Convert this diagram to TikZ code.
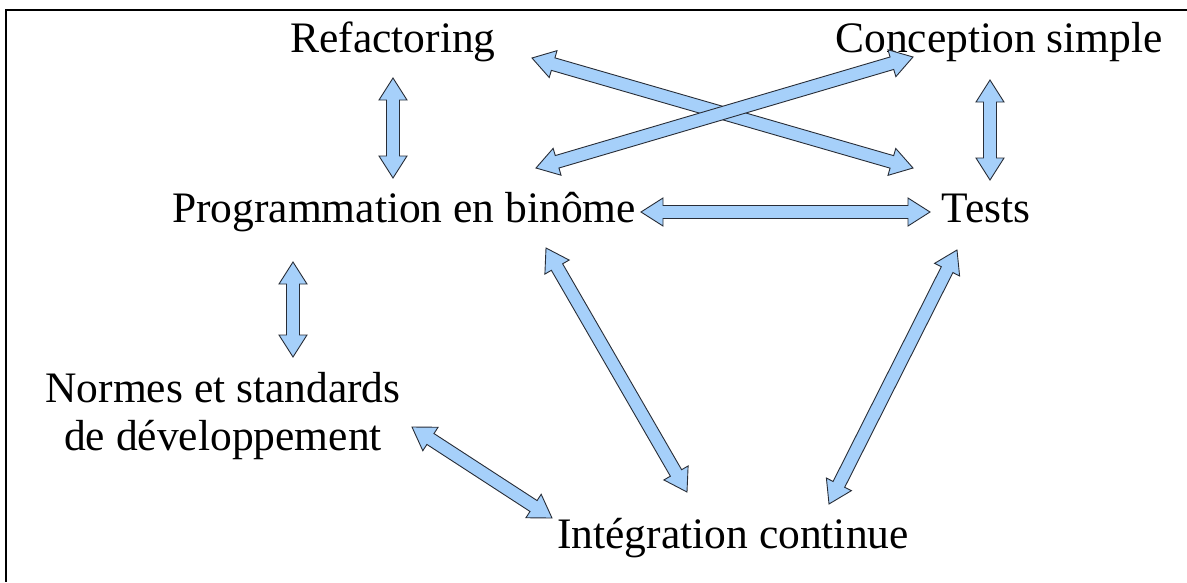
\documentclass[tikz,border=0pt]{standalone}
\usepackage{fontspec}
\setmainfont{Liberation Serif}
\usetikzlibrary{calc}
\definecolor{arrowblue}{RGB}{166,208,250}
\definecolor{arrowline}{RGB}{40,45,55}
\tikzset{
  lbl/.style={inner sep=0pt, anchor=base, font=\fontsize{43.5}{48}\selectfont},
  barrow/.style={fill=arrowblue, draw=arrowline, line width=0.9pt, line join=miter},
  frameline/.style={line width=2.5pt}
}
\newcommand\blockarr[2]{%
  \draw[barrow] (#1)
   -- ($(#1)!22pt!(#2)!14pt!90:(#2)$)
   -- ($(#1)!22pt!(#2)!6.5pt!90:(#2)$)
   -- ($(#2)!22pt!(#1)!6.5pt!-90:(#1)$)
   -- ($(#2)!22pt!(#1)!14pt!-90:(#1)$)
   -- (#2)
   -- ($(#2)!22pt!(#1)!14pt!90:(#1)$)
   -- ($(#2)!22pt!(#1)!6.5pt!90:(#1)$)
   -- ($(#1)!22pt!(#2)!6.5pt!-90:(#2)$)
   -- ($(#1)!22pt!(#2)!14pt!-90:(#2)$)
   -- cycle;}
\begin{document}
\begin{tikzpicture}[x=1pt,y=-1pt]
\useasboundingbox (0,0) rectangle (1187,582);
\fill[white] (0,0) rectangle (1187,582);
% frame (top and left edges)
\coordinate (fa) at (1187,10);
\coordinate (fb) at (6,10);
\coordinate (fc) at (6,582);
\draw[frameline] (fa) -- (fb) -- (fc);
% labels
\node[lbl] (refac) at (393,52) {Refactoring};
\node[lbl] (concep) at (999,52) {Conception simple};
\node[lbl] (prog) at (404,222) {Programmation en binôme};
\node[lbl] (tests) at (986,222) {Tests};
\node[inner sep=0pt, align=center, font=\fontsize{43.5}{48}\selectfont] (normes) at (223,416) {Normes et standards\\de développement};
\node[lbl] (integ) at (733,548) {Intégration continue};
% arrow end points
\coordinate (rp1) at (393,78);  \coordinate (rp2) at (393,178);
\coordinate (rt1) at (532,58);  \coordinate (rt2) at (913,168);
\coordinate (pc1) at (536,168); \coordinate (pc2) at (913,57);
\coordinate (pt1) at (641,212); \coordinate (pt2) at (930,212);
\coordinate (ct1) at (990,80);  \coordinate (ct2) at (990,180);
\coordinate (pn1) at (293,262); \coordinate (pn2) at (293,357);
\coordinate (pi1) at (546,248); \coordinate (pi2) at (687,492);
\coordinate (ti1) at (957,250); \coordinate (ti2) at (829,504);
\coordinate (ni1) at (412,427); \coordinate (ni2) at (552,518);
\blockarr{rp1}{rp2}
\blockarr{rt1}{rt2}
\blockarr{pc1}{pc2}
\blockarr{pt1}{pt2}
\blockarr{ct1}{ct2}
\blockarr{pn1}{pn2}
\blockarr{pi1}{pi2}
\blockarr{ti1}{ti2}
\blockarr{ni1}{ni2}
\end{tikzpicture}
\end{document}
